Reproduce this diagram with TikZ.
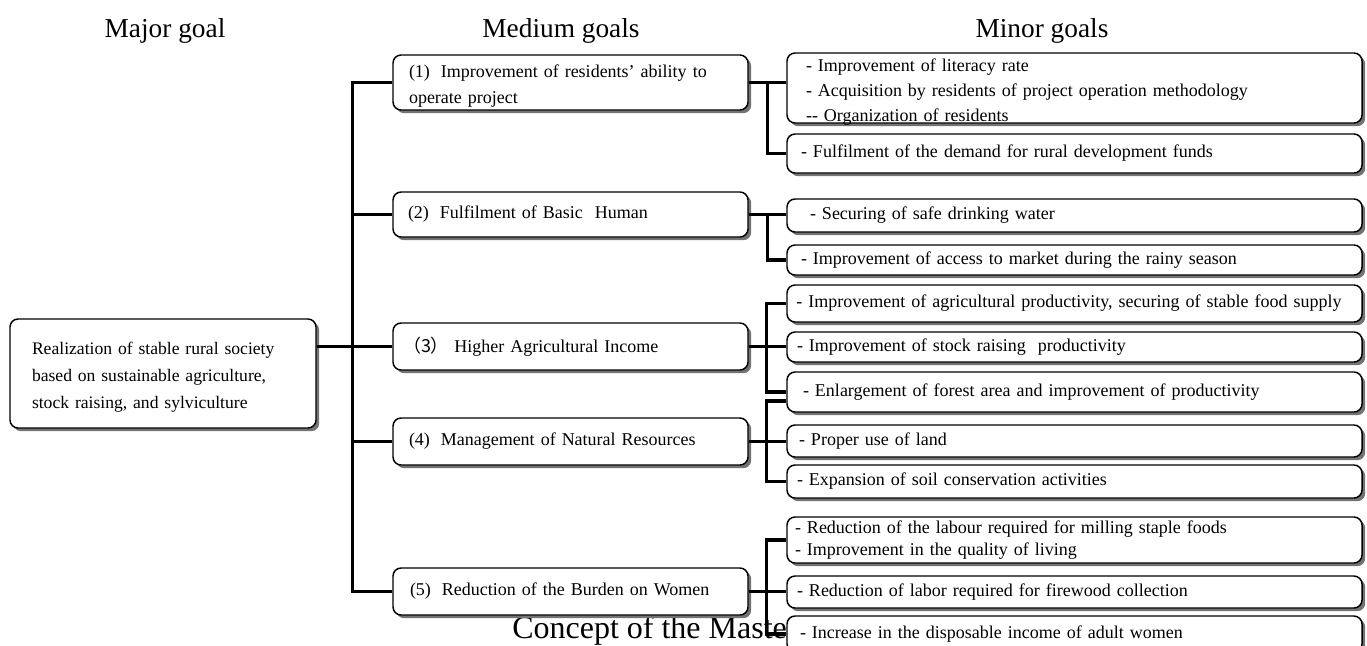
\documentclass[tikz,border=0pt]{standalone}
\usepackage{fontspec}
\setmainfont{Liberation Serif}
\newfontfamily\cjk{Noto Sans CJK SC}
\usetikzlibrary{shadows,calc}
\begin{document}
\begin{tikzpicture}[x=0.75pt,y=-0.75pt,
  conn/.style={line width=2.3pt},
  gbox/.style={draw, line width=1.1pt, rounded corners=6pt, fill=white,
    drop shadow={shadow xshift=2.4pt, shadow yshift=-2.4pt, fill=black!55, opacity=1},
    font=\fontsize{13.5}{19}\selectfont, align=left, inner ysep=0pt, inner xsep=2pt},
  minor/.style={gbox, minimum width=431.25pt, text width=427.25pt, minimum height=#1},
  medium/.style={gbox, minimum width=266.25pt, text width=262.25pt, minimum height=#1},
  head/.style={font=\fontsize{20.5}{24}\selectfont, inner sep=0pt}
]
\useasboundingbox (0,0) rectangle (1367,646);

% headers
\node[head, anchor=base] (hmaj) at (165,37) {Major goal};
\node[head, anchor=base] (hmed) at (561,37) {Medium goals};
\node[head, anchor=base] (hmin) at (1042,37) {Minor goals};

% caption (partly hidden by the last box)
\node[anchor=base west, inner sep=0pt, font=\fontsize{24}{28}\selectfont] (cap) at (512,638) {\underline{Concept of the Maste}};

% major goal
\node[gbox, minimum width=229.5pt, text width=225.5pt, minimum height=81.75pt,
  font=\fontsize{13.2}{20.25}\selectfont, text depth=38pt] (major) at (163,373.5)
  {\hspace*{14.5pt}Realization of stable rural society\\
   \hspace*{14.5pt}based on sustainable agriculture,\\
   \hspace*{14.5pt}stock raising, and sylviculture};

% medium goals
\node[medium=41.25pt, font=\fontsize{13.5}{19.5}\selectfont, text depth=17pt] (m1) at (570.5,82.5)
  {\hspace*{10pt}(1)\hspace{0.6em}Improvement of residents' ability to\\\hspace*{10pt}operate project};
\node[medium=33.75pt] (m2) at (570.5,214.5) {\hspace*{9.25pt}(2)\hspace{0.6em}Fulfilment of Basic~ Human};
\node[medium=35.25pt] (m3) at (570.5,346.5) {\hspace*{5.5pt}{\cjk （3）}\hspace{0.3em}Higher Agricultural Income};
\node[medium=35.25pt] (m4) at (570.5,441.5) {\hspace*{10pt}(4)\hspace{0.6em}Management of Natural Resources};
\node[medium=35.25pt] (m5) at (570.5,591.5) {\hspace*{10.75pt}(5)\hspace{0.6em}Reduction of the Burden on Women};

% minor goals
\node[minor=52.5pt, font=\fontsize{13.5}{18.75}\selectfont, text depth=34pt] (A) at (1074.5,88)
  {\hspace*{12.25pt}- Improvement of literacy rate\\
   \hspace*{12.25pt}- Acquisition by residents of project operation methodology\\
   \hspace*{12.25pt}-{}- Organization of residents};
\node[minor=29.25pt] (B) at (1074.5,153.5) {\hspace*{8.5pt}- Fulfilment of the demand for rural development funds};
\node[minor=24.75pt] (C) at (1074.5,215.5) {\hspace*{15.25pt}- Securing of safe drinking water};
\node[minor=22.5pt] (D) at (1074.5,260) {\hspace*{8.5pt}- Improvement of access to market during the rainy season};
\node[minor=27.75pt] (E) at (1074.5,303.5) {\mbox{\hspace*{5pt}- Improvement of agricultural productivity, securing of stable food supply}};
\node[minor=22.5pt] (F) at (1074.5,347) {\hspace*{5.5pt}- Improvement of stock raising~ productivity};
\node[minor=30pt] (G) at (1074.5,392) {\hspace*{10pt}- Enlargement of forest area and improvement of productivity};
\node[minor=24pt] (H) at (1074.5,441) {\hspace*{7pt}- Proper use of land};
\node[minor=24.75pt] (I) at (1074.5,481.5) {\hspace*{5.5pt}- Expansion of soil conservation activities};
\node[minor=34.5pt, font=\fontsize{13.5}{16.5}\selectfont] (J) at (1074.5,540)
  {\hspace*{4pt}- Reduction of the labour required for milling staple foods\\
   \hspace*{4pt}- Improvement in the quality of living};
\node[minor=24pt] (K) at (1074.5,592) {\hspace*{5.5pt}- Reduction of labor required for firewood collection};
\node[minor=27pt] (L) at (1074.5,634) {\hspace*{7.75pt}- Increase in the disposable income of adult women};

% trunk: major goal to medium goals
\draw[conn] (major.east |- m3.west) -- (m3.west);
\draw[conn] (m1.west) -- ++(-40,0) |- (m5.west);
\draw[conn] (m2.west) -- ++(-40,0);
\draw[conn] (m4.west) -- ++(-40,0);

% group 1
\draw[conn] (m1.east) -- (m1.east -| A.west);
\draw[conn] (m1.east) ++(19,0) |- (B.west);
% group 2
\draw[conn] (m2.east) -- (m2.east -| C.west);
\draw[conn] (m2.east) ++(19,0) |- (D.west);
% group 3
\draw[conn] (m3.east) -- (m3.east -| F.west);
\draw[conn] (E.west) -- ++(-20,0) |- (G.west);
% group 4
\draw[conn] (m4.east) -- (m4.east -| H.west);
\draw[conn] ($(G.west)+(0,9)$) -- ++(-20,0) |- (I.west);
% group 5
\draw[conn] (m5.east) -- (m5.east -| K.west);
\draw[conn] (J.west) -- ++(-20,0) |- (L.west);
\end{tikzpicture}
\end{document}
